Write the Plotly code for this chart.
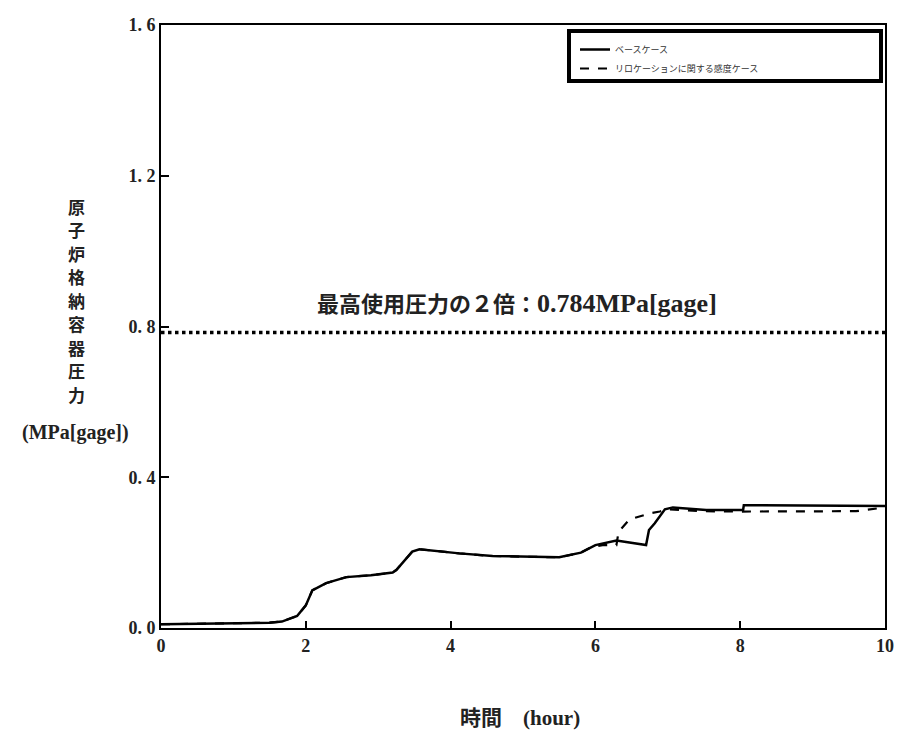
import plotly.graph_objects as go

# Base case (solid)
base_t = [0, 0.5, 1.0, 1.5, 1.67, 1.88, 2.0, 2.09, 2.28, 2.56, 2.9, 3.2, 3.25, 3.47, 3.57,
          4.12, 4.58, 5.0, 5.5, 5.8, 6.0, 6.29, 6.7, 6.74, 6.82, 6.96, 7.07, 7.53, 8.04,
          8.05, 9.0, 10.0]
base_p = [0.010, 0.012, 0.013, 0.014, 0.017, 0.032, 0.060, 0.100, 0.119, 0.135, 0.140,
          0.147, 0.154, 0.2025, 0.209, 0.198, 0.191, 0.189, 0.1875, 0.200, 0.220, 0.232,
          0.220, 0.260, 0.278, 0.315, 0.320, 0.313, 0.313, 0.326, 0.325, 0.324]

# Relocation sensitivity case (dashed)
sens_t = [0, 0.5, 1.0, 1.5, 1.67, 1.88, 2.0, 2.09, 2.28, 2.56, 2.9, 3.2, 3.25, 3.47, 3.57,
          4.12, 4.58, 5.0, 5.5, 5.8, 5.95, 6.1, 6.29, 6.32, 6.47, 6.75, 6.89, 7.0, 7.5,
          8.0, 9.0, 9.6, 10.0]
sens_p = [0.010, 0.012, 0.013, 0.014, 0.017, 0.032, 0.060, 0.100, 0.119, 0.135, 0.140,
          0.147, 0.154, 0.2025, 0.209, 0.198, 0.191, 0.189, 0.1875, 0.200, 0.215, 0.220,
          0.220, 0.255, 0.288, 0.304, 0.309, 0.315, 0.310, 0.309, 0.309, 0.310, 0.320]

limit_value = 0.784
x_range = [0, 10]

y_ticks = [0.0, 0.4, 0.8, 1.2, 1.6]
y_ticktext = ["0. 0", "0. 4", "0. 8", "1. 2", "1. 6"]
x_ticks = [0, 2, 4, 6, 8, 10]

names = ["ベースケース", "リロケーションに関する感度ケース"]
y_title_chars = list("原子炉格納容器圧力")

serif = "Liberation Serif, Noto Sans CJK JP"

# plot area in page pixels
PL, PT, PW, PH = 161, 25, 724, 603
W, H = 900, 735


def px(x):
    return (x - PL) / PW


def py(y):
    return 1 - (y - PT) / PH


fig = go.Figure()
fig.add_trace(go.Scatter(x=x_range, y=[limit_value, limit_value], mode="lines",
                         line=dict(color="black", width=3.5, dash="dot"),
                         showlegend=False, hoverinfo="skip"))
fig.add_trace(go.Scatter(x=base_t, y=base_p, mode="lines", name=names[0],
                         line=dict(color="black", width=2.5)))
fig.add_trace(go.Scatter(x=sens_t, y=sens_p, mode="lines", name=names[1],
                         line=dict(color="black", width=2.2, dash="dash")))

annotations = [
    dict(text="最高使用圧力の２倍：<span style='font-size:26px'>0.784MPa[gage]</span>",
         xref="paper", yref="paper", x=px(517), y=py(303), showarrow=False,
         xanchor="center", yanchor="middle",
         font=dict(size=22, family=serif, color="#222", weight="bold")),
    dict(text="(MPa[gage])", xref="paper", yref="paper",
         x=px(75), y=py(432), showarrow=False, xanchor="center", yanchor="middle",
         font=dict(size=20, family="Liberation Serif", color="#222", weight="bold")),
    dict(text="時間　(hour)", xref="paper", yref="paper",
         x=px(520), y=py(718), showarrow=False, xanchor="center", yanchor="middle",
         font=dict(size=21, family=serif, color="#222", weight="bold")),
]
for i, ch in enumerate(y_title_chars):
    annotations.append(dict(text=ch, xref="paper", yref="paper",
                            x=px(76), y=py(206 + i * 23.5), showarrow=False,
                            xanchor="center", yanchor="middle", borderpad=0,
                            font=dict(size=17, family="Noto Sans CJK JP", color="#222",
                                      weight="bold")))

fig.update_layout(
    width=W, height=H, autosize=False,
    margin=dict(l=PL, r=W - (PL + PW), t=PT, b=H - (PT + PH), autoexpand=False),
    paper_bgcolor="white", plot_bgcolor="white",
    font=dict(family=serif, color="#222"),
    legend=dict(x=px(575), y=py(35), xanchor="left", yanchor="top",
                bgcolor="rgba(0,0,0,0)", borderwidth=0,
                font=dict(size=9, family="Noto Sans CJK JP", color="#333"),
                tracegroupgap=0),
    xaxis=dict(range=x_range, tickvals=x_ticks, ticks="inside", ticklen=7,
               tickwidth=2, tickcolor="black", showgrid=False, zeroline=False,
               showline=True, linecolor="black", linewidth=2, mirror=True,
               automargin=False,
               tickfont=dict(size=18, family="Liberation Serif", color="#222",
                             weight="bold")),
    yaxis=dict(range=[0, 1.6], tickvals=y_ticks, ticktext=y_ticktext, ticks="inside",
               ticklen=8, tickwidth=2, tickcolor="black", showgrid=False,
               zeroline=False, showline=True, linecolor="black", linewidth=2,
               mirror=True, automargin=False,
               tickfont=dict(size=18, family="Liberation Serif", color="#222",
                             weight="bold")),
    shapes=[dict(type="rect", xref="paper", yref="paper",
                 x0=px(569), x1=px(881), y0=py(81), y1=py(31),
                 line=dict(color="black", width=4))],
    annotations=annotations,
)

fig.write_html(
    "out.html",
    config={"displayModeBar": False},
    post_script="document.body.style.margin='0px';document.body.style.overflow='hidden';",
)
